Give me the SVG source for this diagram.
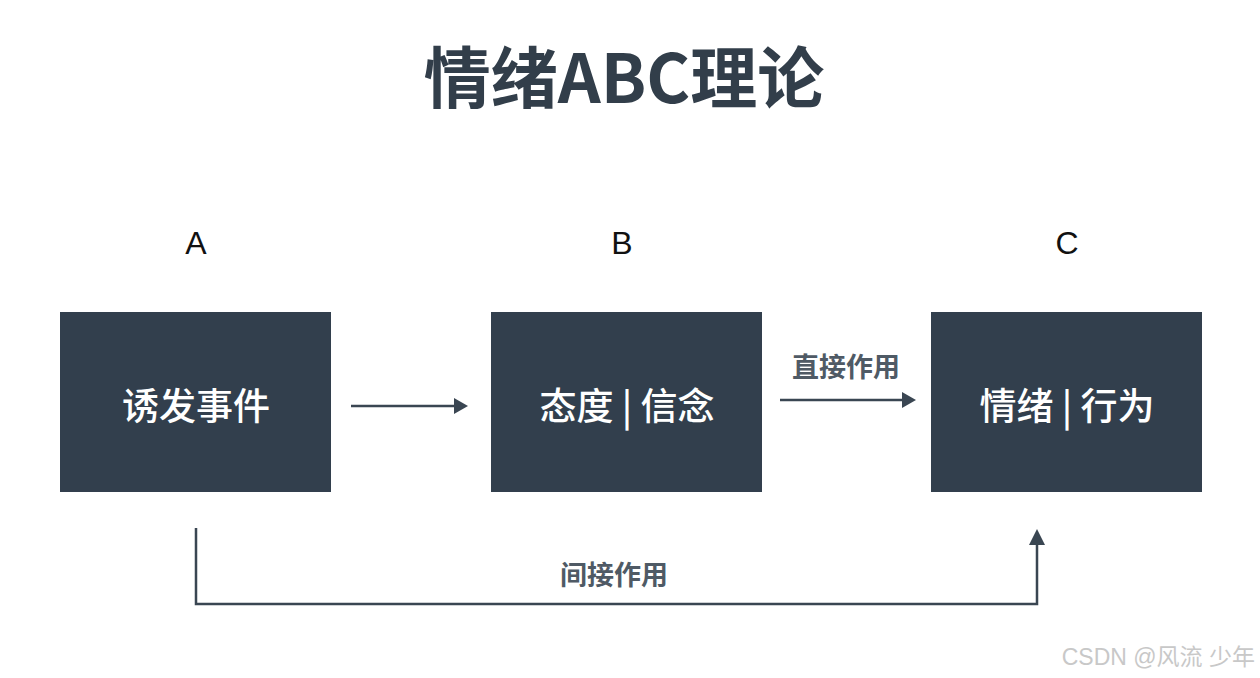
<svg xmlns="http://www.w3.org/2000/svg" width="1260" height="678" viewBox="0 0 1260 678">
<style>
.box{fill:#323f4d}
.bt{fill:#ffffff;font-family:"Noto Sans CJK SC","Noto Sans",sans-serif;font-size:37px;font-weight:500;text-anchor:middle;dominant-baseline:central}
.lt{fill:#111111;font-family:"Liberation Sans",Arial,sans-serif;font-size:32px;text-anchor:middle}
.cl{fill:#4f5a65;font-family:"Noto Sans CJK SC",sans-serif;font-size:27px;font-weight:bold;text-anchor:middle}
.ln{stroke:#3a4652;stroke-width:2.5;fill:none}
</style>
<rect width="1260" height="678" fill="#ffffff"/>
<text x="624" y="103" fill="#323e4a" font-family="'Noto Sans CJK SC',sans-serif" font-size="67" font-weight="bold" text-anchor="middle">情绪ABC理论</text>
<text class="lt" x="196" y="254">A</text>
<text class="lt" x="622" y="254">B</text>
<text class="lt" x="1067" y="254">C</text>
<g id="nodeA"><rect class="box" x="60" y="312" width="271" height="180"/><text class="bt" x="196" y="404">诱发事件</text></g>
<g id="nodeB"><rect class="box" x="491" y="312" width="271" height="180"/><text class="bt" x="627" y="404">态度 | 信念</text></g>
<g id="nodeC"><rect class="box" x="931" y="312" width="271" height="180"/><text class="bt" x="1067" y="404">情绪 | 行为</text></g>
<g id="connectors">
<path class="ln" d="M351,406 L456,406"/>
<path d="M468,406 L454,398 L454,414 Z" fill="#3a4652"/>
<path class="ln" d="M780,400 L904,400"/>
<path d="M916,400 L902,392 L902,408 Z" fill="#3a4652"/>
<text class="cl" x="846" y="377">直接作用</text>
<path class="ln" d="M196,528 L196,604 L1037,604 L1037,542"/>
<path d="M1037,529 L1029,545 L1045,545 Z" fill="#3a4652"/>
<text class="cl" x="614" y="585">间接作用</text>
</g>
<text x="1255" y="665" fill="#c8c8c8" font-family="'Liberation Sans','Noto Sans CJK SC',sans-serif" font-size="23" text-anchor="end">CSDN @风流 少年</text>
</svg>
